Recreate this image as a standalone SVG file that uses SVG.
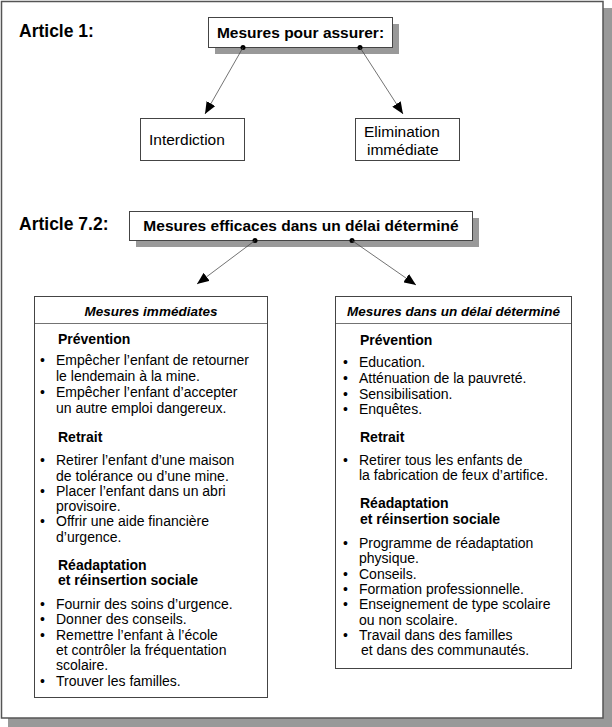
<svg xmlns="http://www.w3.org/2000/svg" width="612" height="727" viewBox="0 0 612 727">
<style>
text{font-family:"Liberation Sans",Arial,sans-serif;fill:#000}
.art{font-size:17.5px;font-weight:bold}
.hb{font-size:15.5px;font-weight:bold}
.lb{font-size:15.5px}
.hd{font-size:13.5px;font-weight:bold;font-style:italic}
.sub{font-size:14px;font-weight:bold}
.t{font-size:14px}
.box{fill:#fff;stroke:#444;stroke-width:1}
.sh{fill:#999}
.con{stroke:#444;stroke-width:0.75;fill:none}
</style>
<defs>
<marker id="ah" viewBox="0 0 12 10" refX="12" refY="5" markerWidth="12" markerHeight="10" markerUnits="userSpaceOnUse" orient="auto">
<path d="M0,0 L12,5 L0,10 Z" fill="#000"/>
</marker>
</defs>
<rect x="0" y="0" width="612" height="727" fill="#fff"/>
<rect class="sh" x="8" y="8" width="604" height="719"/>
<rect x="1.5" y="1.5" width="601.5" height="716.5" fill="#fff" stroke="#555" stroke-width="1.5"/>

<text class="art" x="19" y="37">Article 1:</text>
<text class="art" x="19" y="230">Article 7.2:</text>

<g id="n-assurer">
<rect class="sh" x="215" y="24" width="184" height="30"/>
<rect class="box" x="208.5" y="17.5" width="184" height="30"/>
<text class="hb" x="300.5" y="38" text-anchor="middle">Mesures pour assurer:</text>
</g>
<g id="n-interdiction">
<rect class="box" x="140.5" y="118.5" width="104" height="42"/>
<text class="lb" x="149" y="145">Interdiction</text>
</g>
<g id="n-elimination">
<rect class="box" x="355.5" y="118.5" width="104" height="42"/>
<text class="lb" x="364" y="137">Elimination</text>
<text class="lb" x="367" y="155">immédiate</text>
</g>
<g id="n-efficaces">
<rect class="sh" x="136" y="218" width="343" height="29"/>
<rect class="box" x="129.5" y="211.5" width="343" height="29"/>
<text class="hb" x="301" y="231" text-anchor="middle">Mesures efficaces dans un délai déterminé</text>
</g>

<g id="connectors">
<circle cx="243" cy="47.5" r="2.5" fill="#000"/>
<circle cx="360" cy="47.5" r="2.5" fill="#000"/>
<line class="con" x1="243" y1="47.5" x2="205" y2="114" marker-end="url(#ah)"/>
<line class="con" x1="360" y1="47.5" x2="403" y2="114" marker-end="url(#ah)"/>
<circle cx="255" cy="240.5" r="2.5" fill="#000"/>
<circle cx="352" cy="240.5" r="2.5" fill="#000"/>
<line class="con" x1="255" y1="240.5" x2="197" y2="284" marker-end="url(#ah)"/>
<line class="con" x1="352" y1="240.5" x2="416" y2="285" marker-end="url(#ah)"/>
</g>

<g id="n-immediates">
<rect class="box" x="34.5" y="296.5" width="233" height="401"/>
<line class="con" x1="34.5" y1="323.5" x2="267.5" y2="323.5" stroke="#444" stroke-width="1"/>
<text class="hd" x="151" y="316" text-anchor="middle">Mesures immédiates</text>
<text class="sub" x="58" y="344">Prévention</text>
<text class="t" x="40" y="365">•</text><text class="t" x="56" y="365">Empêcher l’enfant de retourner</text>
<text class="t" x="56" y="381">le lendemain à la mine.</text>
<text class="t" x="40" y="397">•</text><text class="t" x="56" y="397">Empêcher l’enfant d’accepter</text>
<text class="t" x="56" y="413">un autre emploi dangereux.</text>
<text class="sub" x="58" y="442">Retrait</text>
<text class="t" x="40" y="465">•</text><text class="t" x="56" y="465">Retirer l’enfant d’une maison</text>
<text class="t" x="56" y="481">de tolérance ou d’une mine.</text>
<text class="t" x="40" y="496">•</text><text class="t" x="56" y="496">Placer l’enfant dans un abri</text>
<text class="t" x="56" y="511">provisoire.</text>
<text class="t" x="40" y="526">•</text><text class="t" x="56" y="526">Offrir une aide financière</text>
<text class="t" x="56" y="542">d’urgence.</text>
<text class="sub" x="58" y="570">Réadaptation</text>
<text class="sub" x="58" y="585">et réinsertion sociale</text>
<text class="t" x="40" y="609">•</text><text class="t" x="56" y="609">Fournir des soins d’urgence.</text>
<text class="t" x="40" y="624">•</text><text class="t" x="56" y="624">Donner des conseils.</text>
<text class="t" x="40" y="640">•</text><text class="t" x="56" y="640">Remettre l’enfant à l’école</text>
<text class="t" x="56" y="655">et contrôler la fréquentation</text>
<text class="t" x="56" y="670">scolaire.</text>
<text class="t" x="40" y="686">•</text><text class="t" x="56" y="686">Trouver les familles.</text>
</g>

<g id="n-delai">
<rect class="box" x="335.5" y="296.5" width="236" height="372"/>
<line class="con" x1="335.5" y1="323.5" x2="571.5" y2="323.5" stroke="#444" stroke-width="1"/>
<text class="hd" x="453.5" y="316" text-anchor="middle">Mesures dans un délai déterminé</text>
<text class="sub" x="360" y="345">Prévention</text>
<text class="t" x="343" y="367">•</text><text class="t" x="359" y="367">Education.</text>
<text class="t" x="343" y="383">•</text><text class="t" x="359" y="383">Atténuation de la pauvreté.</text>
<text class="t" x="343" y="399">•</text><text class="t" x="359" y="399">Sensibilisation.</text>
<text class="t" x="343" y="414">•</text><text class="t" x="359" y="414">Enquêtes.</text>
<text class="sub" x="360" y="442">Retrait</text>
<text class="t" x="343" y="465">•</text><text class="t" x="359" y="465">Retirer tous les enfants de</text>
<text class="t" x="359" y="480">la fabrication de feux d’artifice.</text>
<text class="sub" x="360" y="508">Réadaptation</text>
<text class="sub" x="360" y="524">et réinsertion sociale</text>
<text class="t" x="343" y="548">•</text><text class="t" x="359" y="548">Programme de réadaptation</text>
<text class="t" x="359" y="563">physique.</text>
<text class="t" x="343" y="579">•</text><text class="t" x="359" y="579">Conseils.</text>
<text class="t" x="343" y="594">•</text><text class="t" x="359" y="594">Formation professionnelle.</text>
<text class="t" x="343" y="609">•</text><text class="t" x="359" y="609">Enseignement de type scolaire</text>
<text class="t" x="359" y="625">ou non scolaire.</text>
<text class="t" x="343" y="640">•</text><text class="t" x="359" y="640">Travail dans des familles</text>
<text class="t" x="361" y="655">et dans des communautés.</text>
</g>
</svg>
